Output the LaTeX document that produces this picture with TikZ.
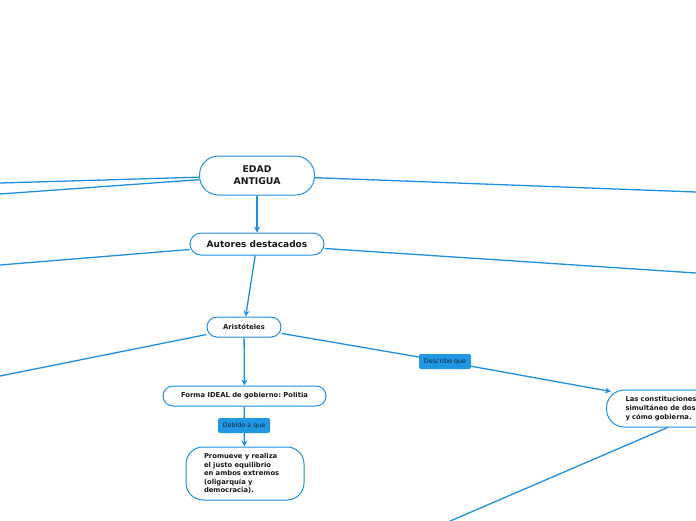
\documentclass[tikz,border=0pt]{standalone}
\usepackage{fontspec}
\setmainfont{DejaVu Sans}
\usetikzlibrary{arrows.meta}
\frenchspacing
\definecolor{lineblue}{HTML}{1E90E2}
\definecolor{labelblue}{HTML}{2196E3}
\definecolor{labeltext}{HTML}{13293D}
\tikzset{
  conn/.style={draw=lineblue, line width=1.3pt},
  arr/.style={conn, -{Stealth[length=6pt,width=6pt]}},
  topic/.style={draw=lineblue, line width=1pt, fill=white, text=black!90, inner sep=0pt},
  lbl/.style={fill=labelblue, rounded corners=2pt, text=labeltext, font=\fontsize{6.4}{7.5}\selectfont, minimum width=52pt, minimum height=15pt, inner sep=0pt},
}
\begin{document}
\begin{tikzpicture}[x=1pt,y=-1pt]
\useasboundingbox (0,0) rectangle (696,520);
\clip (0,0) rectangle (696,520);
\fill[white] (0,0) rectangle (696,520);
\coordinate (l1) at (0,183);
\coordinate (l2) at (0,194);
\coordinate (r1) at (696,192);
\coordinate (l3) at (0,265);
\coordinate (r3) at (696,273);
\coordinate (l4) at (0,376);
\coordinate (b5) at (420,534);
% nodes
\node[topic, rounded corners=19pt, minimum width=115pt, minimum height=39pt, align=center, font=\bfseries\fontsize{9.3}{12}\selectfont] (edad) at (257,175.5) {EDAD\\ANTIGUA};
\node[topic, rounded corners=11pt, minimum width=134pt, minimum height=22pt, font=\bfseries\fontsize{9}{11}\selectfont] (autores) at (257,244) {Autores destacados};
\node[topic, rounded corners=10pt, minimum width=74pt, minimum height=20pt, font=\bfseries\fontsize{6.8}{8}\selectfont] (arist) at (244,327) {Aristóteles};
\node[topic, rounded corners=10pt, minimum width=163pt, minimum height=20pt, font=\bfseries\fontsize{6.8}{8}\selectfont] (forma) at (244.5,396) {Forma IDEAL de gobierno: Politia};
\node[lbl] (debido) at (244,425.5) {Debido a que};
\node[topic, rounded corners=17pt, minimum width=118pt, minimum height=53pt, text width=82pt, align=left, font=\bfseries\fontsize{6.8}{8.5}\selectfont] (promueve) at (245,473.5) {Promueve y realiza\\el justo equilibrio\\en ambos extremos\\(oligarquía y\\democracia).};
\node[lbl] (describe) at (445,361.5) {Describe que};
\node[topic, rounded corners=18pt, minimum height=37pt, text width=150pt, inner xsep=19pt, align=left, anchor=west, font=\bfseries\fontsize{6.8}{8.8}\selectfont] (cons) at (606,408.5) {Las constituciones\\simultáneo de dos\\y cómo gobierna.};
% connectors
\draw[conn] (edad) -- (l1);
\draw[conn] (edad) -- (l2);
\draw[conn] (edad) -- (r1);
\draw[conn] (autores) -- (l3);
\draw[conn] (autores) -- (r3);
\draw[conn] (arist) -- (l4);
\draw[conn] (cons.210) -- (b5);
\draw[arr] (edad) -- (autores);
\draw[arr] (autores) -- (arist);
\draw[arr] (arist) -- (forma);
\draw[conn] (forma) -- (debido);
\draw[arr] (debido) -- (promueve);
\draw[conn] (arist) -- (describe);
\draw[arr] (describe) -- ([shift={(5,2)}]cons.north west);
\end{tikzpicture}
\end{document}
